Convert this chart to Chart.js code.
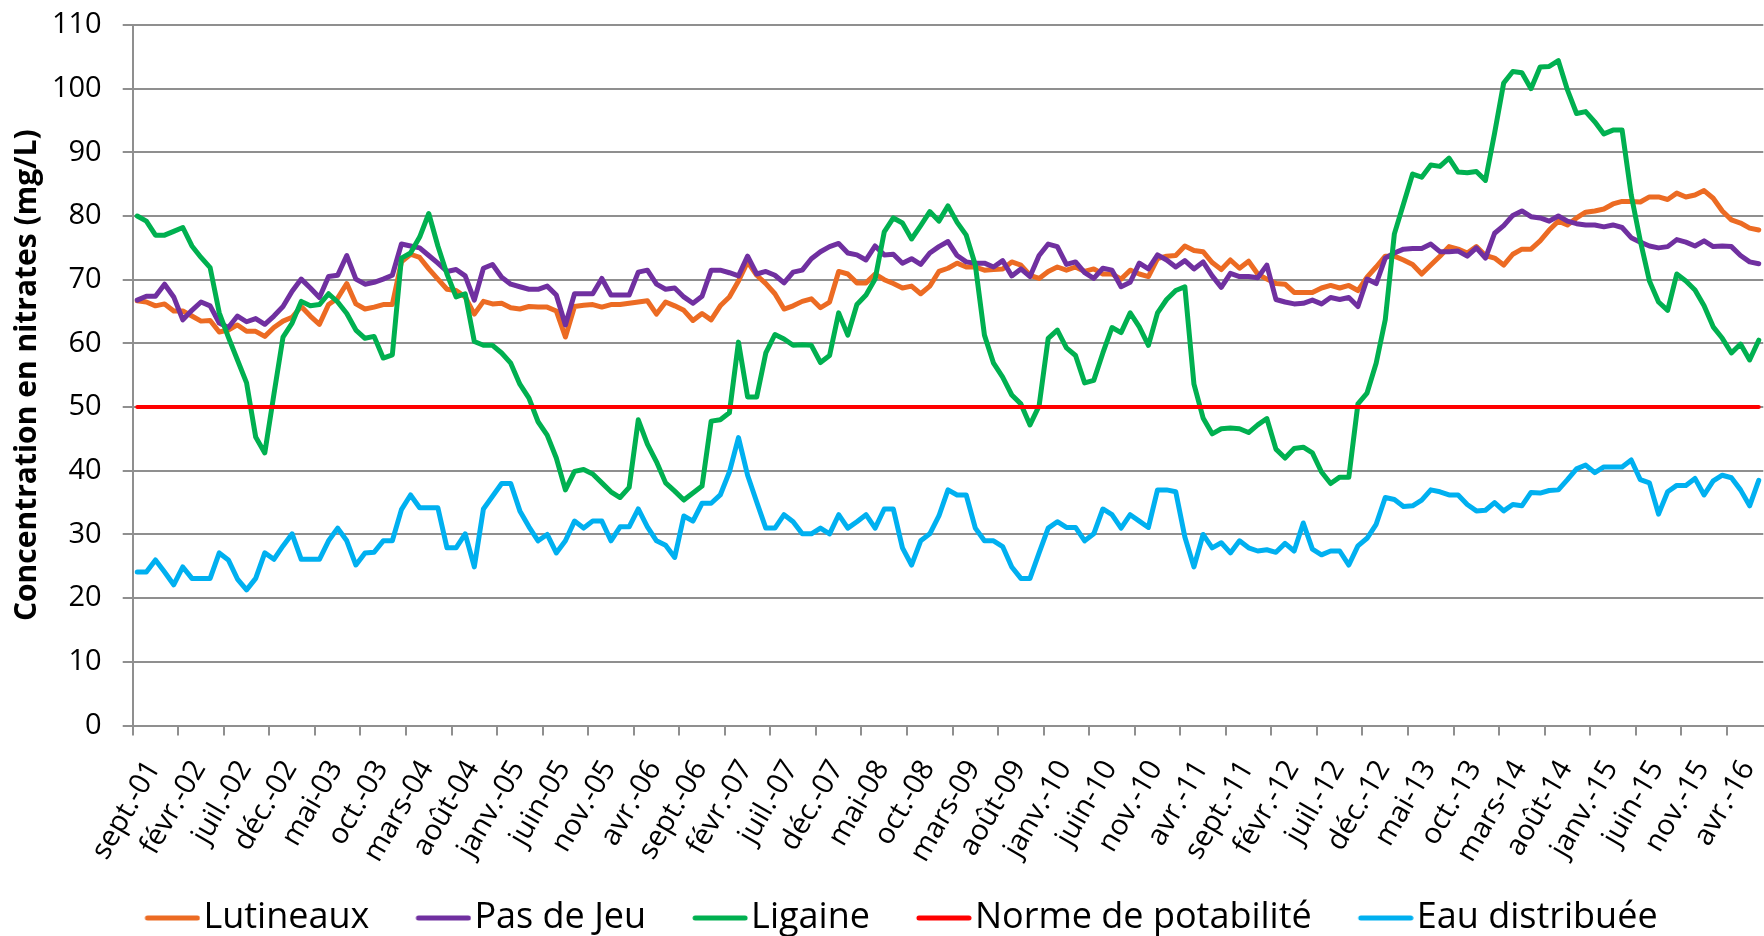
<!DOCTYPE html>
<html>
<head>
<meta charset="utf-8">
<script src="https://cdn.jsdelivr.net/npm/chart.js@4.4.1/dist/chart.umd.min.js"></script>
<style>
html,body{margin:0;padding:0;overflow:hidden;background:#fff;width:1764px;height:936px}
#wrap{position:absolute;left:0;top:0;width:1776px;height:946px}
</style>
</head>
<body>
<div id="wrap"><canvas id="c" width="1776" height="946"></canvas></div>
<script>
// x tick labels (one every 5 months, starting sept.-01)
const tickLabels = ['sept.-01','févr.-02','juil.-02','déc.-02','mai-03','oct.-03','mars-04','août-04','janv.-05','juin-05','nov.-05','avr.-06','sept.-06','févr.-07','juil.-07','déc.-07','mai-08','oct.-08','mars-09','août-09','janv.-10','juin-10','nov.-10','avr.-11','sept.-11','févr.-12','juil.-12','déc.-12','mai-13','oct.-13','mars-14','août-14','janv.-15','juin-15','nov.-15','avr.-16'];

// monthly values, sept.-01 ... juil.-16
const lutineaux = [
66.7,66.5,65.9,66.2,65.1,65.1,64.3,63.5,63.6,61.8,
62.1,62.9,61.9,61.9,61.1,62.5,63.5,64.1,65.8,64.3,
63.0,66.1,67.1,69.4,66.2,65.4,65.7,66.1,66.1,72.8,
74.0,73.5,71.7,70.1,68.5,68.3,67.3,64.6,66.6,66.2,
66.3,65.6,65.4,65.8,65.7,65.7,65.1,61.0,65.8,66.0,
66.1,65.7,66.1,66.1,66.3,66.5,66.7,64.6,66.5,65.9,
65.2,63.6,64.7,63.7,65.9,67.3,69.8,72.8,70.7,69.4,
67.8,65.4,65.9,66.6,67.0,65.6,66.5,71.3,70.9,69.5,
69.5,70.9,70.0,69.4,68.7,69.0,67.8,69.0,71.3,71.8,
72.6,72.0,72.0,71.5,71.6,71.7,72.8,72.3,70.7,70.2,
71.3,72.0,71.5,72.0,71.3,71.7,70.9,70.9,70.1,71.5,
70.9,70.5,73.3,73.7,73.8,75.3,74.6,74.4,72.7,71.6,
73.1,71.8,72.9,70.9,70.1,69.4,69.3,68.0,68.0,68.0,
68.7,69.1,68.7,69.1,68.3,70.4,72.0,73.7,73.7,73.1,
72.4,70.9,72.3,73.7,75.2,74.8,74.2,75.2,73.8,73.4,
72.3,74.0,74.8,74.8,76.1,77.8,79.2,78.6,79.7,80.6,
80.8,81.1,81.9,82.3,82.3,82.2,83.0,83.0,82.6,83.6,
83.0,83.3,84.0,82.8,80.8,79.4,78.9,78.1,77.8];

const pasDeJeu = [
66.8,67.4,67.4,69.3,67.3,63.7,65.2,66.5,65.9,63.2,
62.5,64.3,63.4,63.9,63.0,64.3,65.8,68.2,70.1,68.7,
67.2,70.5,70.7,73.8,70.1,69.3,69.6,70.1,70.7,75.6,
75.3,75.0,73.8,72.6,71.3,71.6,70.6,66.8,71.8,72.4,
70.4,69.3,68.9,68.5,68.5,69.0,67.6,62.9,67.8,67.8,
67.8,70.2,67.6,67.6,67.6,71.2,71.5,69.3,68.5,68.7,
67.3,66.3,67.4,71.5,71.5,71.1,70.6,73.7,70.9,71.3,
70.7,69.5,71.2,71.5,73.3,74.4,75.2,75.7,74.2,73.9,
73.1,75.3,73.9,74.0,72.6,73.3,72.4,74.2,75.2,76.0,
73.8,72.8,72.6,72.6,72.0,73.0,70.6,71.7,70.5,73.8,
75.6,75.2,72.4,72.8,71.1,70.2,71.8,71.5,68.9,69.6,
72.6,71.7,73.9,73.1,72.0,73.0,71.7,72.8,70.6,68.8,
71.0,70.5,70.5,70.3,72.3,66.9,66.5,66.2,66.3,66.8,
66.2,67.2,66.9,67.2,65.8,70.1,69.4,73.4,74.2,74.8,
74.9,74.9,75.6,74.4,74.4,74.5,73.7,75.0,73.4,77.3,
78.5,80.1,80.8,79.9,79.7,79.2,80.0,79.2,78.8,78.6,
78.6,78.3,78.6,78.2,76.6,75.9,75.3,75.0,75.2,76.3,
75.9,75.3,76.1,75.2,75.3,75.2,73.8,72.8,72.5];

const ligaine = [
80.0,79.2,77.0,77.0,77.6,78.2,75.3,73.5,71.9,64.8,
61.0,57.4,53.8,45.3,42.8,52.0,61.0,63.2,66.6,65.9,
66.1,67.8,66.5,64.7,62.1,60.8,61.1,57.7,58.2,73.4,
74.2,76.7,80.4,75.3,70.9,67.3,67.8,60.3,59.7,59.7,
58.5,56.9,53.6,51.4,47.7,45.6,42.0,37.0,39.9,40.2,
39.5,38.1,36.7,35.8,37.4,48.0,44.2,41.4,38.1,36.8,
35.4,36.5,37.6,47.8,48.0,49.1,60.2,51.6,51.6,58.5,
61.4,60.7,59.7,59.8,59.7,57.0,58.1,64.8,61.3,66.1,
67.6,70.1,77.5,79.7,78.9,76.4,78.5,80.7,79.2,81.6,
79.0,77.0,72.3,61.3,56.9,54.7,51.9,50.5,47.2,50.2,
60.8,62.1,59.3,58.1,53.8,54.2,58.5,62.5,61.7,64.8,
62.6,59.7,64.8,66.9,68.3,68.9,53.6,48.3,45.8,46.6,
46.7,46.6,46.0,47.2,48.2,43.4,42.0,43.5,43.7,42.8,
39.8,38.0,39.0,39.0,50.5,52.2,56.9,63.7,77.2,81.9,
86.6,86.1,88.0,87.8,89.1,86.9,86.8,87.0,85.6,93.0,
100.9,102.7,102.5,100.0,103.4,103.5,104.4,99.8,96.1,96.4,
94.8,92.9,93.5,93.5,83.3,76.1,69.8,66.5,65.2,70.9,
69.8,68.4,65.9,62.6,60.8,58.5,59.9,57.4,60.5];

const norme = [
50,50,50,50,50,50,50,50,50,50, 50,50,50,50,50,50,50,50,50,50,
50,50,50,50,50,50,50,50,50,50, 50,50,50,50,50,50,50,50,50,50,
50,50,50,50,50,50,50,50,50,50, 50,50,50,50,50,50,50,50,50,50,
50,50,50,50,50,50,50,50,50,50, 50,50,50,50,50,50,50,50,50,50,
50,50,50,50,50,50,50,50,50,50, 50,50,50,50,50,50,50,50,50,50,
50,50,50,50,50,50,50,50,50,50, 50,50,50,50,50,50,50,50,50,50,
50,50,50,50,50,50,50,50,50,50, 50,50,50,50,50,50,50,50,50,50,
50,50,50,50,50,50,50,50,50,50, 50,50,50,50,50,50,50,50,50,50,
50,50,50,50,50,50,50,50,50,50, 50,50,50,50,50,50,50,50,50];

const eauDistribuee = [
24.1,24.1,26.0,24.1,22.1,24.9,23.1,23.1,23.1,27.1,
26.0,23.0,21.3,23.1,27.1,26.1,28.2,30.1,26.1,26.1,
26.1,29.0,31.0,29.0,25.2,27.1,27.2,29.0,29.0,33.9,
36.2,34.2,34.2,34.2,27.9,27.9,30.1,24.9,34.0,36.0,
38.0,38.0,33.7,31.2,29.0,30.0,27.1,29.0,32.1,31.0,
32.1,32.1,29.0,31.2,31.2,34.0,31.2,29.0,28.3,26.4,
32.9,32.1,34.9,34.9,36.2,39.8,45.2,39.3,35.1,31.0,
31.0,33.1,32.0,30.1,30.1,31.0,30.1,33.1,31.0,32.0,
33.1,31.0,34.0,34.0,27.9,25.2,29.0,30.1,32.9,37.0,
36.2,36.2,31.0,29.0,29.0,28.1,24.9,23.1,23.1,27.1,
31.0,32.0,31.1,31.1,29.0,30.1,34.0,33.1,31.0,33.1,
32.1,31.1,37.0,37.0,36.7,29.6,24.9,30.0,27.9,28.7,
27.1,29.0,27.9,27.4,27.6,27.2,28.6,27.4,31.8,27.7,
26.8,27.4,27.4,25.2,28.2,29.4,31.6,35.8,35.5,34.4,
34.5,35.4,37.0,36.7,36.2,36.2,34.7,33.7,33.8,35.0,
33.7,34.7,34.5,36.6,36.5,36.9,37.0,38.6,40.3,40.9,
39.7,40.6,40.6,40.6,41.7,38.6,38.1,33.2,36.7,37.7,
37.7,38.8,36.2,38.4,39.3,38.9,37.0,34.5,38.5];

const seriesNames = ['Lutineaux','Pas de Jeu','Ligaine','Norme de potabilité','Eau distribuée'];
const seriesColors = ['#EC6B23','#7030A0','#00B050','#FF0000','#00B0F0'];
const seriesData = [lutineaux, pasDeJeu, ligaine, norme, eauDistribuee];

// category centres (month i sits in the middle of its category)
const nCats = lutineaux.length;
const positions = lutineaux.map((_, i) => i + 0.5);
const tickPositions = tickLabels.map((_, k) => k * 5);

// legend swatch: a 56px line placed at the right of a 97px-wide image
function makeIcon(color) {
  const c = document.createElement('canvas');
  c.width = 97; c.height = 10;
  const g = c.getContext('2d');
  g.strokeStyle = color; g.lineWidth = 5; g.lineCap = 'round';
  g.beginPath(); g.moveTo(44, 5); g.lineTo(94, 5); g.stroke();
  return c;
}
const icons = seriesColors.map(makeIcon);

const gray = '#8f8f8f';
const tickFont = { family: "'Open Sans', sans-serif", size: 29 };

new Chart(document.getElementById('c'), {
  type: 'line',
  data: {
    labels: positions,
    datasets: seriesData.map((d, k) => ({
      label: seriesNames[k],
      data: d,
      borderColor: seriesColors[k],
      backgroundColor: seriesColors[k],
      borderWidth: k === 3 ? 4 : 5,
      order: 5 - k,
      pointRadius: 0,
      fill: false,
      tension: 0,
      borderJoinStyle: 'round',
      borderCapStyle: 'round'
    }))
  },
  options: {
    responsive: false,
    animation: false,
    devicePixelRatio: 1,
    layout: { padding: { top: 25, left: 0, right: 0, bottom: 0 } },
    plugins: {
      tooltip: { enabled: false },
      legend: {
        position: 'bottom',
        labels: {
          usePointStyle: true,
          pointStyleWidth: 67,
          boxHeight: 36,
          padding: 20,
          color: '#000',
          font: { family: "'Open Sans', sans-serif", size: 36 },
          sort: (a, b) => a.datasetIndex - b.datasetIndex,
          generateLabels: (chart) => {
            const items = Chart.defaults.plugins.legend.labels.generateLabels(chart);
            items.forEach(it => { it.pointStyle = icons[it.datasetIndex]; });
            return items;
          }
        }
      }
    },
    scales: {
      x: {
        type: 'linear',
        min: 0,
        max: nCats,
        afterBuildTicks: (s) => { s.ticks = tickPositions.map(v => ({ value: v })); },
        afterFit: (s) => { s.height = 154.5; },
        grid: { display: true, drawOnChartArea: false, drawTicks: true, tickLength: 10, color: gray, lineWidth: 2 },
        border: { display: true, color: gray, width: 2 },
        ticks: {
          autoSkip: false, minRotation: 60, maxRotation: 60,
          padding: 19, labelOffset: 21, color: '#000', font: tickFont,
          callback: (v) => tickLabels[Math.round(v / 5)]
        }
      },
      y: {
        min: 0, max: 110,
        afterFit: (s) => { s.width = 132.7; s.paddingTop = 0; s.paddingBottom = 0; },
        grid: { color: gray, lineWidth: 2, tickLength: 10, drawTicks: true },
        border: { display: true, color: gray, width: 2 },
        ticks: { stepSize: 10, padding: 21, color: '#000', font: tickFont },
        title: {
          display: true,
          text: 'Concentration en nitrates (mg/L)',
          color: '#000',
          font: { family: "'Open Sans', sans-serif", size: 30, weight: 'bold' },
          padding: { top: 9, bottom: 0 }
        }
      }
    }
  }
});
</script>
</body>
</html>
